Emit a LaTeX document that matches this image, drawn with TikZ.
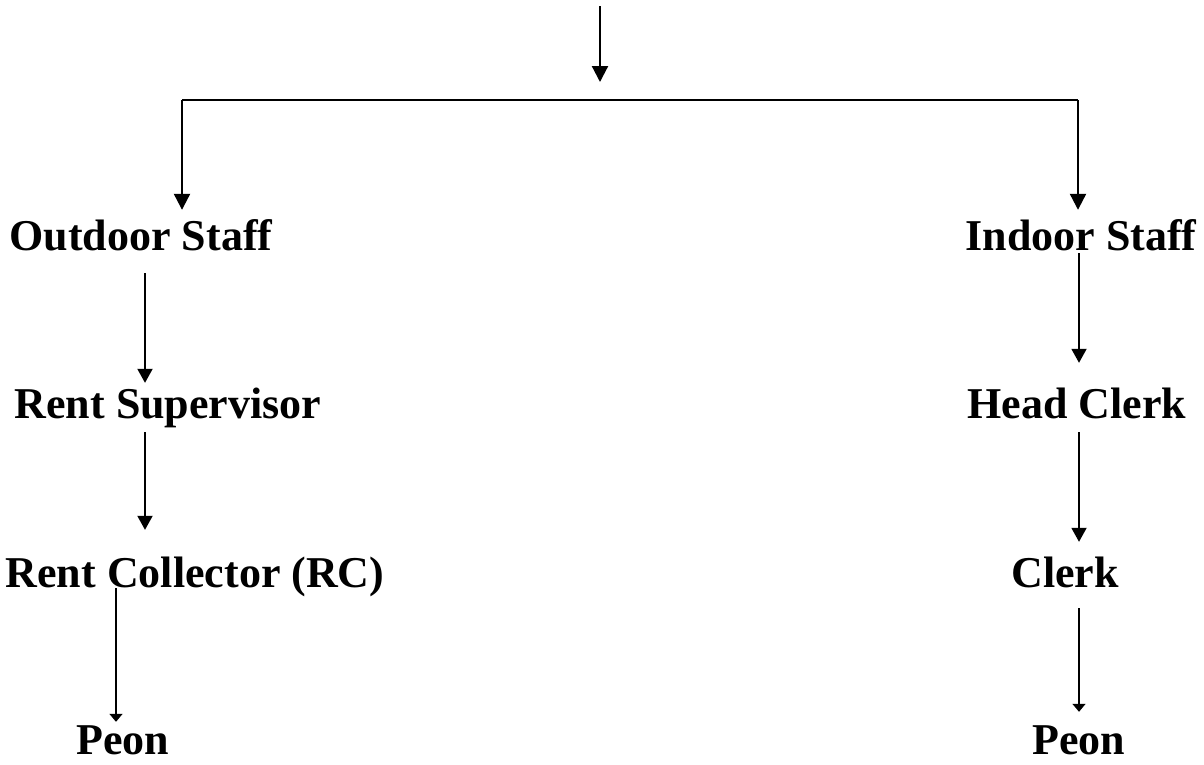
\documentclass[tikz,border=0pt]{standalone}
\usepackage{fontspec}
\setmainfont{Liberation Serif}
\usepackage{tikz}
\usetikzlibrary{arrows.meta}
\usetikzlibrary{positioning}

\tikzset{
  post/.style={font=\bfseries\fontsize{44}{50}\selectfont, inner sep=0pt,
    text height=30pt, text depth=10pt, anchor=base},
  arr/.style={line width=2.2pt, -{Triangle[width=16pt,length=16pt]}},
  arrmid/.style={line width=1.9pt, -{Triangle[width=15pt,length=14pt]}},
  arrthin/.style={line width=1.5pt, -{Triangle[width=13pt,length=8pt]}},
}

\begin{document}
\begin{tikzpicture}[x=1pt,y=-1pt]
        \useasboundingbox (0,0) rectangle (1204,764);
        % staff posts
        \node[post] (outdoor) at (141,250) {Outdoor Staff};
        \node[post] (indoor) at (1081,250) {Indoor Staff};
        \node[post] (super) at (168,418) {Rent Supervisor};
        \node[post] (head) at (1077,418) {Head Clerk};
        \node[post] (coll) at (195,587) {Rent Collector (RC)};
        \node[post] (clerk) at (1065,587) {Clerk};
        \node[post, text depth=3pt] (peonL) at (123,754) {Peon};
        \node[post, text depth=3pt] (peonR) at (1079,754) {Peon};
        % columns and fork
        \coordinate (topin) at (600,6);
        \coordinate (topout) at (600,82);
        \coordinate (barL) at (182,100);
        \coordinate (barR) at (1078,100);
        \coordinate (lcol) at (145,0);
        \coordinate (pcol) at (116,0);
        \coordinate (rcol) at (1079,0);
        \draw[arr] (topin) -- (topout);
        \draw[line width=2.2pt] (barL) -- (barR);
        \draw[arr, shorten >=10pt] (barL) -- (barL |- outdoor.north);
        \draw[arr, shorten >=10pt] (barR) -- (barR |- indoor.north);
        % left side
        \draw[arrmid, shorten <=13pt, shorten >=5pt] (outdoor.south -| lcol) -- (super.north -| lcol);
        \draw[arrmid, shorten <=4pt, shorten >=27pt] (super.south -| lcol) -- (coll.north -| lcol);
        \draw[arrthin, shorten <=-9pt, shorten >=2pt] (coll.south -| pcol) -- (peonL.north -| pcol);
        % right side
        \draw[arrmid, shorten <=-7pt, shorten >=25pt] (indoor.south -| rcol) -- (head.north -| rcol);
        \draw[arrmid, shorten <=4pt, shorten >=15pt] (head.south -| rcol) -- (clerk.north -| rcol);
        \draw[arrthin, shorten <=11pt, shorten >=12pt] (clerk.south -| rcol) -- (peonR.north -| rcol);
    \end{tikzpicture}
\end{document}
